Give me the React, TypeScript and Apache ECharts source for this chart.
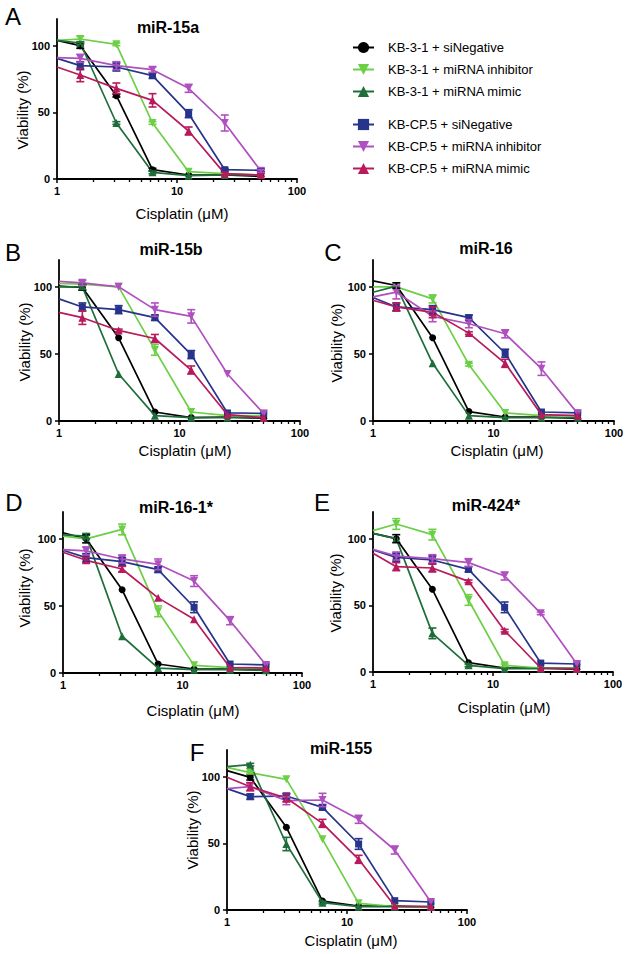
import React, { useEffect, useRef } from 'react';
import * as echarts from 'echarts';

// Cisplatin doses (µM); the first entry (1) is where each curve meets the y axis (no marker)
const doses = [1, 1.5625, 3.125, 6.25, 12.5, 25, 50];
const seriesNames = [
  'KB-3-1 + siNegative',
  'KB-3-1 + miRNA inhibitor',
  'KB-3-1 + miRNA mimic',
  'KB-CP.5 + siNegative',
  'KB-CP.5 + miRNA inhibitor',
  'KB-CP.5 + miRNA mimic',
];
const yTickValues = [0, 50, 100];
const xMinorTickValues = [2, 3, 4, 5, 6, 7, 8, 9, 20, 30, 40, 50, 60, 70, 80, 90];

// Viability (%) per series: [siNeg 3-1, inhib 3-1, mimic 3-1, siNeg CP5, inhib CP5, mimic CP5]
const miR15a_values = [
  [104, 100, 62.5, 7, 3, 3, 2],
  [104, 105, 101, 42, 5.5, 4, 3],
  [104, 102, 42, 5, 2.5, 3, 3],
  [90.5, 85, 84, 77.5, 49, 7, 6.5],
  [91, 90.5, 85, 82, 68, 42, 6],
  [84, 78, 68, 59, 36, 4, 3],
];
const miR15a_errors = [
  [0, 2, 1, 1, 0, 0, 0],
  [0, 2, 1, 1, 0, 0, 0],
  [0, 1, 1, 1, 0, 0, 0],
  [0, 3, 3, 2, 3, 1, 1],
  [0, 3, 3, 2, 3, 6, 1],
  [0, 5, 4, 5, 3, 1, 1],
];
const miR15b_values = [
  [100.5, 99.5, 62, 6.7, 2.5, 3, 2],
  [102.5, 102, 100, 53, 6.7, 4, 4],
  [100, 100, 35, 4, 2.5, 2.5, 2.5],
  [91, 85, 83, 77, 49.5, 6, 5.7],
  [104, 103, 100, 83, 78, 35, 5.5],
  [81, 77, 67.5, 61.5, 38, 4.7, 2.5],
];
const miR15b_errors = [
  [0, 2, 0, 0, 0, 0, 0],
  [0, 0, 0, 4, 0, 0, 0],
  [0, 2, 0, 0, 0, 0, 0],
  [0, 3, 3, 2, 3, 0, 0],
  [0, 2, 0, 5, 5, 0, 0],
  [0, 5, 1, 3, 3, 0, 0],
];
const miR16_values = [
  [104.5, 101, 62, 7, 3, 3, 2],
  [100, 100, 91, 42, 6, 4, 4],
  [96, 100.5, 43, 4, 2.5, 2.5, 2.5],
  [92, 85, 83, 77, 50.5, 6.7, 6],
  [92.5, 96, 78, 72.5, 65, 39, 5.5],
  [90, 85, 81, 65.5, 43, 4.7, 4],
];
const miR16_errors = [
  [0, 2, 0, 0, 0, 0, 0],
  [0, 0, 3, 1, 0, 0, 0],
  [0, 0, 0, 0, 0, 0, 0],
  [0, 3, 3, 2, 3, 0, 0],
  [0, 5, 4, 3, 3, 5, 0],
  [0, 3, 4, 1, 3, 0, 0],
];
const miR161_values = [
  [104.5, 100, 62, 6.7, 3, 3, 2],
  [102, 100, 107, 46, 5.7, 4, 4],
  [103, 102, 27.4, 3.7, 2.5, 2.5, 2],
  [91.5, 86, 83, 77, 49, 6.7, 6],
  [92, 91, 85, 81, 68.5, 39, 6],
  [90, 84, 77.5, 56, 40, 4, 3.7],
];
const miR161_errors = [
  [0, 3, 0, 0, 0, 0, 0],
  [0, 0, 4, 4, 0, 0, 0],
  [0, 2, 0, 0, 0, 0, 0],
  [0, 3, 3, 2, 4, 0, 0],
  [0, 3, 3, 4, 4, 3, 0],
  [0, 2, 2, 0, 0, 0, 0],
];
const miR424_values = [
  [104, 100, 62, 7, 3, 3, 2],
  [106, 111, 103, 54, 5, 3, 3],
  [104, 100, 29, 5, 2.5, 2.5, 2.5],
  [91.5, 86, 84, 77, 48.5, 6.7, 6],
  [92, 87, 85, 82, 72, 44, 6],
  [89, 79, 78, 68, 31, 3, 2.5],
];
const miR424_errors = [
  [0, 3, 0, 0, 0, 0, 0],
  [0, 4, 4, 4, 1, 0, 0],
  [0, 0, 4, 1, 0, 0, 0],
  [0, 3, 3, 2, 4, 0, 0],
  [0, 3, 3, 3, 3, 1, 0],
  [0, 3, 3, 1, 1, 0, 0],
];
const miR155_values = [
  [104.5, 99.5, 62, 6.7, 3, 3, 2],
  [107, 103, 98, 53, 5, 2.5, 2],
  [107.5, 109, 49.5, 5.5, 2.5, 2.5, 2.5],
  [91, 85, 85.5, 77, 49.5, 7, 6],
  [91, 92.5, 82, 82.5, 68, 45, 6],
  [99.5, 92.5, 84, 65, 38, 3, 2.5],
];
const miR155_errors = [
  [0, 2, 0, 0, 0, 0, 0],
  [0, 1, 0, 0, 0, 0, 0],
  [0, 1, 5, 1, 0, 0, 0],
  [0, 2, 2, 2, 4, 0, 0],
  [0, 3, 3, 5, 3, 3, 0],
  [0, 3, 3, 3, 3, 0, 0],
];

const FONT = '"Liberation Sans", Arial, Helvetica, sans-serif';
const COLORS = ['#000000', '#6ccf46', '#1f6e3a', '#27348b', '#b050c0', '#b81a5c'];
const DOWN = 'path://M0,0L10,0L5,9Z';
const UP = 'path://M5,0L10,9L0,9Z';
const SYMBOLS = ['circle', DOWN, UP, 'rect', DOWN, UP];
const SIZES = [7, 8, 8, 7, 8, 8];

const panels = [
  { title: 'miR-15a', letter: 'A', values: miR15a_values, errors: miR15a_errors,
    grid: { left: 57, top: 19, width: 240, height: 160 },
    titlePos: [168, 27], letterPos: [13, 16], yNamePos: [22, 110], xNamePos: [182, 213] },
  { title: 'miR-15b', letter: 'B', values: miR15b_values, errors: miR15b_errors,
    grid: { left: 59, top: 260, width: 241, height: 161 },
    titlePos: [171, 249], letterPos: [13, 252], yNamePos: [24, 342], xNamePos: [185, 450] },
  { title: 'miR-16', letter: 'C', values: miR16_values, errors: miR16_errors,
    grid: { left: 373, top: 260, width: 241, height: 161 },
    titlePos: [486, 248], letterPos: [333, 252], yNamePos: [336, 343], xNamePos: [497, 450] },
  { title: 'miR-16-1*', letter: 'D', values: miR161_values, errors: miR161_errors,
    grid: { left: 63, top: 512, width: 239, height: 161 },
    titlePos: [176, 507], letterPos: [14, 502], yNamePos: [24, 588], xNamePos: [193, 710] },
  { title: 'miR-424*', letter: 'E', values: miR424_values, errors: miR424_errors,
    grid: { left: 373, top: 512, width: 240, height: 160 },
    titlePos: [486, 505], letterPos: [322, 502], yNamePos: [335, 593], xNamePos: [504, 707] },
  { title: 'miR-155', letter: 'F', values: miR155_values, errors: miR155_errors,
    grid: { left: 227, top: 750, width: 240, height: 160 },
    titlePos: [341, 748], letterPos: [197, 752], yNamePos: [192, 830], xNamePos: [351, 940] },
];

function buildOption() {
  const grid: any[] = [];
  const xAxis: any[] = [];
  const yAxis: any[] = [];
  const series: any[] = [];
  const graphic: any[] = [];
  const minorAxes: any[] = [];

  panels.forEach((p, pi) => {
    grid.push({ ...p.grid, containLabel: false });
    xAxis.push({
      type: 'log', logBase: 10, gridIndex: pi, min: 1, max: 100, position: 'bottom',
      axisLine: { show: true, lineStyle: { color: '#000', width: 1.8 } },
      axisTick: { show: true, length: 4, lineStyle: { color: '#000', width: 1.5 } },
      axisLabel: { color: '#000', fontSize: 11, fontWeight: 'bold', fontFamily: FONT, margin: 6 },
      splitLine: { show: false },
    });
    // minor ticks of the log axis (2..9, 20..90), placed on a log10 value scale
    minorAxes.push({
      type: 'value', gridIndex: pi, min: 0, max: 2, position: 'bottom', offset: 0,
      axisLine: { show: false },
      axisTick: { show: true, length: 3, customValues: xMinorTickValues.map((v) => Math.log10(v)), lineStyle: { color: '#000', width: 1.3 } },
      axisLabel: { show: false },
      splitLine: { show: false },
    });
    yAxis.push({
      type: 'value', gridIndex: pi, min: 0, max: 120, interval: 50,
      axisLine: { show: true, lineStyle: { color: '#000', width: 1.8 } },
      axisTick: { show: true, length: 4, customValues: yTickValues, lineStyle: { color: '#000', width: 1.5 } },
      axisLabel: { color: '#000', fontSize: 11, fontWeight: 'bold', fontFamily: FONT, margin: 7, customValues: yTickValues },
      splitLine: { show: false },
    });

    p.values.forEach((vals, si) => {
      series.push({
        type: 'line', name: seriesNames[si], xAxisIndex: pi, yAxisIndex: pi,
        color: COLORS[si],
        symbol: SYMBOLS[si], symbolSize: SIZES[si],
        lineStyle: { width: 1.7, color: COLORS[si] },
        itemStyle: { color: COLORS[si] },
        clip: true,
        data: doses.map((d, i) => (i === 0 ? { value: [d, vals[i]], symbol: 'none' } : [d, vals[i]])),
        z: 2 + si * 0.01,
      });
    });
    p.errors.forEach((errs, si) => {
      const color = COLORS[si];
      series.push({
        type: 'custom', name: 'error-' + si, xAxisIndex: pi, yAxisIndex: pi, silent: true,
        z: 3,
        encode: { x: 0, y: 1 },
        data: doses
          .map((d, i) => [d, p.values[si][i], errs[i]])
          .filter((r) => r[2] > 0),
        renderItem: (params: any, api: any) => {
          const x = api.value(0);
          const y = api.value(1);
          const e = api.value(2);
          const top = api.coord([x, y + e]);
          const bot = api.coord([x, y - e]);
          const w = 4;
          const style = { stroke: color, lineWidth: 1.6, fill: null };
          return {
            type: 'group',
            children: [
              { type: 'line', shape: { x1: top[0], y1: top[1], x2: bot[0], y2: bot[1] }, style },
              { type: 'line', shape: { x1: top[0] - w, y1: top[1], x2: top[0] + w, y2: top[1] }, style },
              { type: 'line', shape: { x1: bot[0] - w, y1: bot[1], x2: bot[0] + w, y2: bot[1] }, style },
            ],
          };
        },
      });
    });

    graphic.push(
      { type: 'text', x: p.titlePos[0], y: p.titlePos[1],
        style: { text: p.title, fontSize: 16, fontWeight: 'bold', fontFamily: FONT, fill: '#000', textAlign: 'center', textVerticalAlign: 'middle' } },
      { type: 'text', x: p.letterPos[0], y: p.letterPos[1],
        style: { text: p.letter, fontSize: 24, fontFamily: FONT, fill: '#000', textAlign: 'center', textVerticalAlign: 'middle' } },
      { type: 'text', x: p.yNamePos[0], y: p.yNamePos[1], rotation: Math.PI / 2,
        style: { text: 'Viability (%)', fontSize: 15, fontFamily: FONT, fill: '#000', textAlign: 'center', textVerticalAlign: 'middle' } },
      { type: 'text', x: p.xNamePos[0], y: p.xNamePos[1],
        style: { text: 'Cisplatin (\u03bcM)', fontSize: 15, fontFamily: FONT, fill: '#000', textAlign: 'center', textVerticalAlign: 'middle' } },
    );
  });

  const legendBase = {
    orient: 'vertical', left: 347, itemWidth: 21, itemHeight: 14, itemGap: 9,
    selectedMode: false,
    textStyle: { fontSize: 13, fontFamily: FONT, color: '#000', padding: [0, 0, 0, 9] },
  };

  return {
    animation: false,
    backgroundColor: '#ffffff',
    grid,
    xAxis: [...xAxis, ...minorAxes],
    yAxis, series, graphic,
    legend: [
      { ...legendBase, top: 36, data: seriesNames.slice(0, 3) },
      { ...legendBase, top: 113, data: seriesNames.slice(3) },
    ],
  };
}

export default function App() {
  const ref = useRef<HTMLDivElement>(null);
  useEffect(() => {
    if (!ref.current) return;
    const chart = echarts.init(ref.current, null, { renderer: 'svg' });
    chart.setOption(buildOption() as any);
    return () => chart.dispose();
  }, []);
  return (
    <div
      ref={ref}
      style={{ position: 'absolute', left: 0, top: 0, width: 629, height: 954, background: '#fff' }}
    />
  );
}
